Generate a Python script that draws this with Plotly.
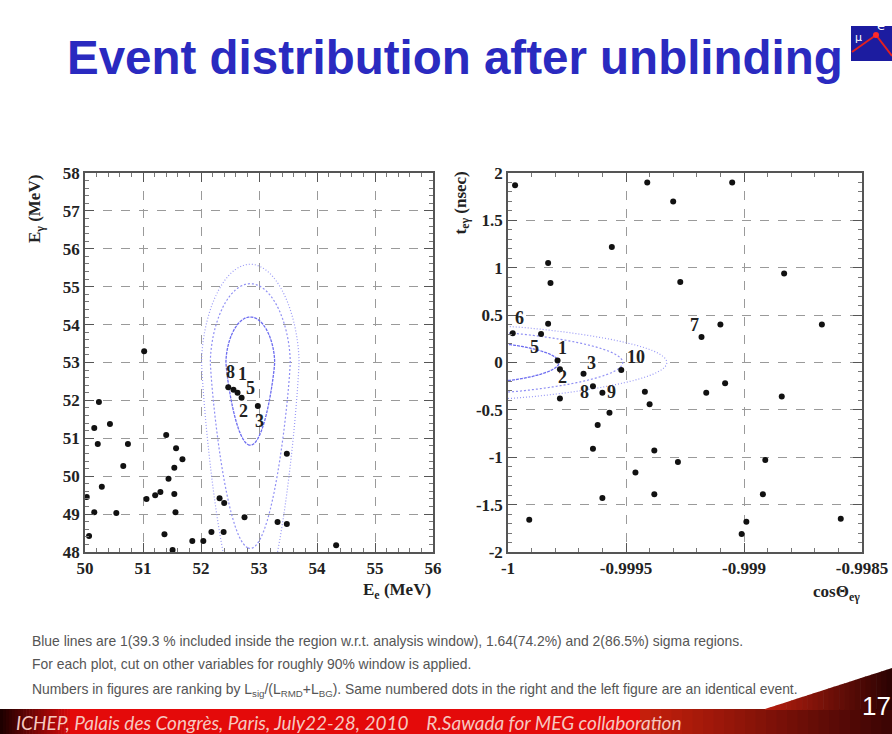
import numpy as np
import plotly.graph_objects as go

W, H = 892, 734

# ---------------- data ----------------
# Left: E_e vs E_gamma (MeV), unlabeled events
left_ee = [50.24, 50.16, 50.22, 50.43, 50.74, 50.66, 50.29, 50.03, 50.16, 50.54, 50.07,
           51.40, 51.57, 51.68, 51.54, 51.44, 51.30, 51.21, 51.06, 51.54, 51.56, 51.37,
           51.51, 51.85, 52.04, 52.18, 52.39, 52.32, 52.40, 52.75, 51.02, 53.32, 53.48,
           53.48, 54.33]
left_eg = [51.96, 51.27, 50.85, 51.38, 50.85, 50.27, 49.72, 49.45, 49.05, 49.03, 48.42,
           51.09, 50.74, 50.45, 50.22, 49.93, 49.58, 49.50, 49.40, 49.53, 49.05, 48.47,
           48.05, 48.29, 48.29, 48.53, 48.53, 49.42, 49.29, 48.92, 53.30, 48.79, 48.74,
           50.59, 48.18]
# Left: ranked events
left_rank = ["8", "1", "5", "2", "3"]
left_rank_ee = [52.47, 52.56, 52.63, 52.70, 52.98]
left_rank_eg = [52.35, 52.28, 52.20, 52.07, 51.85]

# Right: cos(theta_egamma) vs t_egamma (nsec), unlabeled events
right_cos = [-0.99997, -0.99941, -0.99956, -0.99983, -0.99982, -0.99983, -0.99978, -0.99942,
             -0.99940, -0.99957, -0.99962, -0.99964, -0.99938, -0.99946, -0.99938, -0.99960,
             -0.99991, -0.99905, -0.99930, -0.99927, -0.99883, -0.99910, -0.99867, -0.99916,
             -0.99908, -0.99884, -0.99928, -0.99891, -0.99892, -0.99899, -0.99901, -0.99859]
right_t = [1.87, 1.90, 1.22, 1.05, 0.84, 0.41, -0.38, -0.31,
           -0.44, -0.53, -0.66, -0.91, -0.93, -1.16, -1.39, -1.43,
           -1.66, 1.90, 1.70, 0.85, 0.94, 0.40, 0.40, -0.32,
           -0.22, -0.36, -1.05, -1.03, -1.39, -1.68, -1.81, -1.65]
# Right: ranked events
right_rank = ["6", "5", "1", "2", "3", "10", "8", "9", "7"]
right_rank_cos = [-0.99998, -0.99986, -0.99979, -0.99978, -0.99968, -0.99952, -0.99964, -0.99960, -0.99918]
right_rank_t = [0.31, 0.30, 0.02, -0.07, -0.12, -0.08, -0.25, -0.32, 0.27]

# Signal PDF contour parameters (sigma levels 1, 1.64, 2)
sigma_levels = [1.0, 1.64, 2.0]
pdf_left = dict(ee0=52.85, eg0=53.0, sx=0.42, sy_up=1.2, p_up=0.9, sy_dn=2.18, p_dn=0.61)
pdf_right = dict(st=0.19, su=0.000216, p=1.22)

x_ticks_left = [50, 51, 52, 53, 54, 55, 56]
y_ticks_left = [48, 49, 50, 51, 52, 53, 54, 55, 56, 57, 58]
x_ticks_right = [-1, -0.9995, -0.999, -0.9985]
x_ticktext_right = ["-1", "-0.9995", "-0.999", "-0.9985"]
y_ticks_right = [-2, -1.5, -1, -0.5, 0, 0.5, 1, 1.5, 2]
y_ticktext_right = ["-2", "-1.5", "-1", "-0.5", "0", "0.5", "1", "1.5", "2"]

# label offsets (pixels) for ranked numbers
left_lab_off = {"8": (2, 15), "1": (9, 16), "5": (13, 5), "2": (2, -13), "3": (2, -15)}
right_lab_off = {"6": (7, 15), "5": (-7, -13), "1": (5, 13), "2": (3, -8), "3": (8, 11),
                 "10": (15, 13), "8": (-8, -6), "9": (9, 1), "7": (-7, 12)}

# ---------------- helpers ----------------
def px(x):
    return x / W

def py(y):
    return 1 - y / H

SERIF = "Liberation Serif"
fig = go.Figure()

# ---------------- contours ----------------
xs = np.arange(49.5, 56.5, 0.02)
ys = np.arange(44.0, 58.5, 0.03)
XX, YY = np.meshgrid(xs, ys)
dy = YY - pdf_left["eg0"]
v = np.where(dy >= 0, (np.abs(dy) / pdf_left["sy_up"]) ** pdf_left["p_up"],
             (np.abs(dy) / pdf_left["sy_dn"]) ** pdf_left["p_dn"])
ZL = np.round(((XX - pdf_left["ee0"]) / pdf_left["sx"]) ** 2 + v ** 2, 4)

cs = np.arange(-1.0, -0.99849, 0.000005)
ts = np.arange(-1.0, 1.0, 0.01)
CC, TT = np.meshgrid(cs, ts)
U = np.clip(CC + 1.0, 0, None)
ZR = np.round((TT / pdf_right["st"]) ** 2 + (U / pdf_right["su"]) ** pdf_right["p"], 4)

styles = [("#6c6cf0", "3px,1px", 1.3), ("#9090f4", "2px,2px", 1.2), ("#9a9af6", "1px,2px", 1.2)]
for lev, (col, dash, lw) in zip(sigma_levels, styles):
    for (gx, gy, Z, xa, ya) in [(xs, ys, ZL, "x", "y"), (cs, ts, ZR, "x2", "y2")]:
        fig.add_trace(go.Contour(
            x=gx, y=gy, z=Z, xaxis=xa, yaxis=ya,
            autocontour=False,
            contours=dict(start=lev ** 2, end=lev ** 2, size=1, coloring="lines"),
            colorscale=[[0, col], [1, col]], showscale=False,
            line=dict(width=lw, dash=dash, smoothing=1),
            hoverinfo="skip"))

# ---------------- points ----------------
mk = dict(size=6, color="#111111")
fig.add_trace(go.Scatter(x=left_ee, y=left_eg, mode="markers", marker=mk, xaxis="x", yaxis="y"))
fig.add_trace(go.Scatter(x=left_rank_ee, y=left_rank_eg, mode="markers", marker=mk, xaxis="x", yaxis="y"))
fig.add_trace(go.Scatter(x=right_cos, y=right_t, mode="markers", marker=mk, xaxis="x2", yaxis="y2"))
fig.add_trace(go.Scatter(x=right_rank_cos, y=right_rank_t, mode="markers", marker=mk, xaxis="x2", yaxis="y2"))

ann = []
labfont = dict(family=SERIF, size=18, color="#222", weight="bold")
for r, x, y in zip(left_rank, left_rank_ee, left_rank_eg):
    dx_, dy_ = left_lab_off[r]
    ann.append(dict(x=x, y=y, xref="x", yref="y", text=r, showarrow=False,
                    xshift=dx_, yshift=dy_, font=labfont))
for r, x, y in zip(right_rank, right_rank_cos, right_rank_t):
    dx_, dy_ = right_lab_off[r]
    ann.append(dict(x=x, y=y, xref="x2", yref="y2", text=r, showarrow=False,
                    xshift=dx_, yshift=dy_, font=labfont))

# ---------------- axes ----------------
tickfont = dict(family=SERIF, size=17, color="#222", weight="bold")
common = dict(showgrid=True, gridcolor="#9a9a9a", griddash="dash", gridwidth=1,
              ticks="inside", ticklen=9, tickcolor="#555", showline=True, linecolor="#555",
              linewidth=1.5, mirror="allticks", zeroline=False, tickfont=tickfont,
              fixedrange=True, automargin=False)

ydom = [py(552), py(173)]
fig.update_layout(
    xaxis=dict(domain=[px(85), px(433)], range=[50, 56], tickvals=x_ticks_left,
               minor=dict(dtick=0.2, tick0=50, ticks="inside", ticklen=4, tickcolor="#777", showgrid=False),
               anchor="y", **common),
    yaxis=dict(domain=ydom, range=[48, 58], tickvals=y_ticks_left,
               minor=dict(dtick=0.2, tick0=48, ticks="inside", ticklen=4, tickcolor="#777", showgrid=False),
               anchor="x", **common),
    xaxis2=dict(domain=[px(508), px(862)], range=[-1, -0.9985], tickvals=x_ticks_right,
                ticktext=x_ticktext_right,
                minor=dict(dtick=0.0001, tick0=-1, ticks="inside", ticklen=4, tickcolor="#777", showgrid=False),
                anchor="y2", **common),
    yaxis2=dict(domain=ydom, range=[-2, 2], tickvals=y_ticks_right, ticktext=y_ticktext_right,
                minor=dict(dtick=0.1, tick0=-2, ticks="inside", ticklen=4, tickcolor="#777", showgrid=False),
                anchor="x2", **common),
)

titfont = dict(family=SERIF, size=17, color="#222", weight="bold")
ann += [
    dict(x=px(433), y=py(578), xref="paper", yref="paper", xanchor="right", yanchor="top",
         text="E<sub>e</sub> (MeV)", showarrow=False, font=titfont),
    dict(x=px(36), y=py(173), xref="paper", yref="paper", xanchor="center", yanchor="top",
         text="E<sub>γ</sub> (MeV)", showarrow=False, textangle=-90, font=titfont),
    dict(x=px(862), y=py(580), xref="paper", yref="paper", xanchor="right", yanchor="top",
         text="cosΘ<sub>eγ</sub>", showarrow=False, font=titfont),
    dict(x=px(462), y=py(170), xref="paper", yref="paper", xanchor="center", yanchor="top",
         text="t<sub>eγ</sub> (nsec)", showarrow=False, textangle=-90, font=titfont),
]

# ---------------- slide decorations ----------------
ann.append(dict(x=px(455), y=py(58), xref="paper", yref="paper", xanchor="center", yanchor="middle",
                text="Event distribution after unblinding", showarrow=False,
                font=dict(family="Liberation Sans", size=47.5, color="#2a2ac0", weight="bold")))

notes = [
    "Blue lines are 1(39.3 % included inside the region w.r.t. analysis window), 1.64(74.2%) and 2(86.5%) sigma regions.",
    "For each plot, cut on other variables for roughly 90% window is applied.",
    "Numbers in figures are ranking by L<sub>sig</sub>/(L<sub>RMD</sub>+L<sub>BG</sub>). Same numbered dots in the right and the left figure are an identical event.",
]
for txt, yy in zip(notes, [641, 664, 690]):
    ann.append(dict(x=px(30), y=py(yy), xref="paper", yref="paper", xanchor="left", yanchor="middle",
                    text=txt, showarrow=False,
                    font=dict(family="Liberation Sans", size=13.9, color="#555")))

shapes = []

def hexmix(c1, c2, t):
    a = [int(c1[i:i + 2], 16) for i in (1, 3, 5)]
    b = [int(c2[i:i + 2], 16) for i in (1, 3, 5)]
    return "#%02x%02x%02x" % tuple(int(round(a[k] + (b[k] - a[k]) * t)) for k in range(3))

# footer bar with gradient
bar_top = 709
segments = [(0, 70, "#1a0000", "#d80a0a"), (70, 640, "#e40a0a", "#e40a0a"), (640, 892, "#c8200c", "#3a0404")]
for x0, x1, c0, c1 in segments:
    n = 1 if c0 == c1 else 24
    for i in range(n):
        a = x0 + (x1 - x0) * i / n
        b = x0 + (x1 - x0) * (i + 1) / n + 0.6
        shapes.append(dict(type="rect", xref="paper", yref="paper", x0=px(a), x1=px(min(b, W)),
                           y0=0, y1=py(bar_top), line=dict(width=0),
                           fillcolor=hexmix(c0, c1, (i + 0.5) / n)))
# dark triangle above the bar at the right
tx0, tx1, ty_top = 765, 892, 668
n = 24
for i in range(n):
    a = tx0 + (tx1 - tx0) * i / n
    b = min(tx0 + (tx1 - tx0) * (i + 1) / n + 0.6, W)
    ya = bar_top - (a - tx0) / (tx1 - tx0) * (bar_top - ty_top)
    yb = bar_top - (b - tx0) / (tx1 - tx0) * (bar_top - ty_top)
    path = "M %f,%f L %f,%f L %f,%f L %f,%f Z" % (px(a), py(bar_top + 1), px(a), py(ya),
                                                  px(b), py(yb), px(b), py(bar_top + 1))
    shapes.append(dict(type="path", xref="paper", yref="paper", path=path, line=dict(width=0),
                       fillcolor=hexmix("#b81e0e", "#2a0202", (i + 0.5) / n)))

ann.append(dict(x=px(14), y=py(722), xref="paper", yref="paper", xanchor="left", yanchor="middle",
                text="ICHEP, Palais des Congrès, Paris, July22-28, 2010&nbsp;&nbsp;&nbsp;&nbsp;R.Sawada for MEG collaboration",
                showarrow=False,
                font=dict(family="Lato", size=19, color="#f6c8c0", style="italic")))
ann.append(dict(x=px(876), y=py(706), xref="paper", yref="paper", xanchor="center", yanchor="middle",
                text="17", showarrow=False,
                font=dict(family="Liberation Sans Narrow, Liberation Sans", size=26, color="#ffffff")))

# logo
shapes.append(dict(type="rect", xref="paper", yref="paper", x0=px(851), x1=1, y0=py(61), y1=py(26),
                   line=dict(width=0), fillcolor="#1c1ca0"))
shapes.append(dict(type="path", xref="paper", yref="paper",
                   path="M %f,%f L %f,%f L %f,%f" % (px(852), py(52), px(876), py(35), px(892), py(56)),
                   line=dict(color="#e02020", width=2)))
shapes.append(dict(type="circle", xref="paper", yref="paper", x0=px(873), x1=px(879), y0=py(38), y1=py(32),
                   line=dict(width=0), fillcolor="#ff2a2a"))
ann.append(dict(x=px(858), y=py(38), xref="paper", yref="paper", xanchor="center", yanchor="middle",
                text="μ", showarrow=False, font=dict(family="DejaVu Sans", size=11, color="#ffffff")))
ann.append(dict(x=px(881), y=py(25), xref="paper", yref="paper", xanchor="center", yanchor="middle",
                text="e", showarrow=False, font=dict(family="DejaVu Sans", size=13, color="#ffffff")))

fig.update_layout(
    width=W, height=H, autosize=False,
    margin=dict(l=0, r=0, t=0, b=0),
    paper_bgcolor="white", plot_bgcolor="white",
    showlegend=False,
    annotations=ann, shapes=shapes,
)

fig.write_html("out.html")
